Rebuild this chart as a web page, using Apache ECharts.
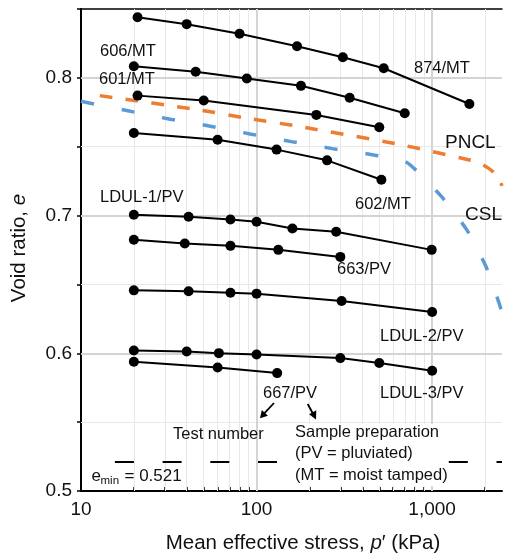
<!DOCTYPE html>
<html><head><meta charset="utf-8">
<script src="https://cdn.jsdelivr.net/npm/echarts@6/dist/echarts.min.js"></script>
<style>html,body{margin:0;padding:0;background:#fff}#c{width:506px;height:554px}</style>
</head><body><div id="c"></div>
<script>
// ---- axis ticks / grid values ----
const xMinorGrid = [20,30,40,50,60,70,80,90,200,300,400,500,600,700,800,900,2000];
const xMajorGrid = [100, 1000];
const xTickValues = [10,20,30,40,50,60,70,80,90,100,200,300,400,500,600,700,800,900,1000,2000];
const xLabelValues = [10, 100, 1000];
const yMajorGrid = [0.6, 0.7, 0.8];
const yMinorGrid = [0.55, 0.65, 0.75];
const EMIN = 0.521;
const EMIN_FROM = 15.6;

// ---- test series (p' kPa, void ratio e) ----
const p874 = [21, 40, 80, 170, 310, 530, 1630];
const e874 = [0.844, 0.839, 0.832, 0.823, 0.815, 0.807, 0.781];
const p606 = [20, 45, 88, 179, 339, 698];
const e606 = [0.8084, 0.8044, 0.7995, 0.7942, 0.7855, 0.7743];
const p601 = [21, 50, 219, 500];
const e601 = [0.7871, 0.7835, 0.7731, 0.7641];
const p602 = [20, 60, 130, 252, 514];
const e602 = [0.760, 0.7551, 0.7479, 0.7401, 0.726];
const pL1 = [20, 41, 71, 100, 160, 284, 994];
const eL1 = [0.7006, 0.6991, 0.6972, 0.6955, 0.6906, 0.6882, 0.6751];
const p663 = [20, 39, 71, 133, 300];
const e663 = [0.6824, 0.6797, 0.678, 0.6751, 0.670];
const pL2 = [20, 41, 71, 100, 305, 1000];
const eL2 = [0.6457, 0.645, 0.644, 0.6433, 0.638, 0.630];
const pL3 = [20, 40, 61, 100, 300, 500, 1000];
const eL3 = [0.602, 0.6013, 0.6001, 0.5991, 0.5965, 0.5929, 0.5873];
const p667 = [20, 60, 131];
const e667 = [0.5938, 0.5897, 0.5856];

// ---- PNCL & CSL ----
const pPNCL = [12.8, 47.8, 92, 177, 660, 1656, 1815, 1965, 2154, 2392, 2500];
const ePNCL = [0.7871, 0.7766, 0.7703, 0.7646, 0.7515, 0.7402, 0.7386, 0.7366, 0.7333, 0.7273, 0.7215];
const pCSL = [10, 18.8, 32.2, 54.5, 93.3, 158, 270, 457, 590, 705, 826, 1132, 1572, 2017, 2422, 2500];
const eCSL = [0.783, 0.7759, 0.770, 0.7649, 0.7591, 0.7537, 0.7486, 0.7442, 0.7413, 0.7391, 0.7319, 0.7137, 0.6898, 0.6636, 0.6353, 0.629];

const FF = '"Liberation Sans", Arial, Helvetica, sans-serif';
const zip = (a, b) => a.map((v, i) => [v, b[i]]);

function testSeries(name, p, e) {
  return {
    name, type: 'line', data: zip(p, e), z: 5,
    symbol: 'circle', symbolSize: 10,
    itemStyle: { color: '#000' },
    lineStyle: { color: '#000', width: 2 },
    silent: true, animation: false
  };
}

const gridSeries = {
  type: 'line', data: [], z: 1, silent: true, animation: false,
  markLine: {
    z: 1, zlevel: 0,
    silent: true, symbol: ['none', 'none'], label: { show: false }, animation: false,
    data: [
      ...xMinorGrid.map(v => ({ xAxis: v, lineStyle: { color: '#e8e8e8', width: 1, type: 'solid' } })),
      ...yMinorGrid.map(v => ({ yAxis: v, lineStyle: { color: '#e8e8e8', width: 1, type: 'solid' } })),
      ...xMajorGrid.map(v => ({ xAxis: v, lineStyle: { color: '#d4d4d4', width: 2, type: 'solid' } })),
      ...yMajorGrid.map(v => ({ yAxis: v, lineStyle: { color: '#d4d4d4', width: 2, type: 'solid' } }))
    ]
  }
};

const series = [
  gridSeries,
  {
    name: 'emin', type: 'line', data: [[EMIN_FROM, EMIN], [2500, EMIN]], z: 3,
    symbol: 'none', silent: true, animation: false,
    lineStyle: { color: '#000', width: 2, type: [19, 28.7] }
  },
  {
    name: 'PNCL', type: 'line', data: zip(pPNCL, ePNCL), z: 4, symbol: 'none', smooth: 0.2,
    silent: true, animation: false,
    lineStyle: { color: '#ED7D31', width: 3.5, type: [12.7, 13.3], cap: 'butt' }
  },
  {
    name: 'CSL', type: 'line', data: zip(pCSL, eCSL), z: 4, symbol: 'none', smooth: 0.2,
    silent: true, animation: false,
    lineStyle: { color: '#5B9BD5', width: 3.5, type: [13.3, 28], cap: 'butt' }
  },
  testSeries('874/MT', p874, e874),
  testSeries('606/MT', p606, e606),
  testSeries('601/MT', p601, e601),
  testSeries('602/MT', p602, e602),
  testSeries('LDUL-1/PV', pL1, eL1),
  testSeries('663/PV', p663, e663),
  testSeries('LDUL-2/PV', pL2, eL2),
  testSeries('LDUL-3/PV', pL3, eL3),
  testSeries('667/PV', p667, e667)
];

function txt(text, x, y, size, extra) {
  return Object.assign({
    type: 'text', x, y, z: 100,
    style: { text, fontSize: size, fontFamily: FF, fill: '#111', align: 'left', verticalAlign: 'middle' }
  }, extra || {});
}

const graphic = [
  { type: 'rect', z: 90, shape: { x: 292, y: 424, width: 150, height: 62 }, style: { fill: '#fff' } },
  txt('606/MT', 100, 51, 16.5),
  txt('601/MT', 99, 79, 16.5),
  txt('874/MT', 414, 68, 16.5),
  txt('PNCL', 445, 143, 19),
  txt('602/MT', 355, 204, 16.5),
  txt('CSL', 465, 215, 19),
  txt('LDUL-1/PV', 100, 197, 16.5),
  txt('663/PV', 337, 269, 16.5),
  txt('LDUL-2/PV', 380, 336, 16.5),
  txt('LDUL-3/PV', 380, 393, 16.5),
  txt('667/PV', 263, 393, 16.5),
  txt('Test number', 173, 434, 16.5),
  txt('Sample preparation', 295, 432, 16.5),
  txt('(PV = pluviated)', 295, 453, 16.5),
  txt('(MT = moist tamped)', 295, 475, 16.5),
  txt('e', 91.5, 476, 17),
  txt('min', 100.5, 481, 11.5),
  txt('= 0.521', 124.5, 476, 17),
  { type: 'line', z: 100, shape: { x1: 274, y1: 403, x2: 264.5, y2: 413.2 }, style: { stroke: '#000', lineWidth: 1.8 } },
  { type: 'polygon', z: 100, shape: { points: [[260, 418.3], [267.9, 415.7], [261.8, 410.1]] }, style: { fill: '#000' } },
  { type: 'line', z: 100, shape: { x1: 307.7, y1: 404, x2: 312.6, y2: 413 }, style: { stroke: '#000', lineWidth: 1.8 } },
  { type: 'polygon', z: 100, shape: { points: [[316, 419.5], [316.3, 410.3], [309.1, 414.3]] }, style: { fill: '#000' } },
  {
    type: 'text', x: 303, y: 543, z: 100,
    style: {
      text: '{n|Mean effective stress, }{i|p}{n|′ (kPa)}', align: 'center', verticalAlign: 'middle',
      rich: {
        n: { fontSize: 20.5, fontFamily: FF, fill: '#111' },
        i: { fontSize: 20.5, fontFamily: FF, fontStyle: 'italic', fill: '#111' }
      }
    }
  },
  {
    type: 'text', x: 19, y: 248, z: 100, rotation: Math.PI / 2,
    style: {
      text: '{n|Void ratio, }{i|e}', align: 'center', verticalAlign: 'middle',
      rich: {
        n: { fontSize: 20.5, fontFamily: FF, fill: '#111' },
        i: { fontSize: 20.5, fontFamily: FF, fontStyle: 'italic', fill: '#111' }
      }
    }
  }
];

const chart = echarts.init(document.getElementById('c'), null, { renderer: 'canvas' });
chart.setOption({
  animation: false,
  backgroundColor: '#fff',
  grid: { left: 81, right: 4, top: 9, bottom: 63, containLabel: false },
  xAxis: [
    {
      type: 'log', logBase: 10, min: 10, max: 2500,
      axisLine: { show: true, onZero: false, lineStyle: { color: '#000', width: 2 } },
      axisTick: { show: true, inside: true, length: 4, lineStyle: { color: '#000', width: 1.5 }, customValues: xTickValues },
      axisLabel: {
        show: true, margin: 9, fontSize: 19, fontFamily: FF, color: '#111',
        customValues: xLabelValues,
        formatter: v => (Math.round(v) === 1000 ? '1,000' : String(Math.round(v)))
      },
      splitLine: { show: false }, minorTick: { show: false }, minorSplitLine: { show: false }
    },
    {
      type: 'log', logBase: 10, min: 10, max: 2500, position: 'top',
      axisLine: { show: true, onZero: false, lineStyle: { color: '#000', width: 1.5 } },
      axisTick: { show: false }, axisLabel: { show: false }, splitLine: { show: false }
    }
  ],
  yAxis: {
    type: 'value', min: 0.5, max: 0.85, interval: 0.05,
    axisLine: { show: true, onZero: false, lineStyle: { color: '#000', width: 2 } },
    axisTick: { show: true, inside: false, length: 4, lineStyle: { color: '#000', width: 1.5 } },
    axisLabel: {
      show: true, margin: 9, fontSize: 19, fontFamily: FF, color: '#111',
      formatter: v => (Math.round(v * 100) % 10 === 0 ? v.toFixed(1) : '')
    },
    splitLine: { show: false }
  },
  series,
  graphic
});
</script></body></html>
